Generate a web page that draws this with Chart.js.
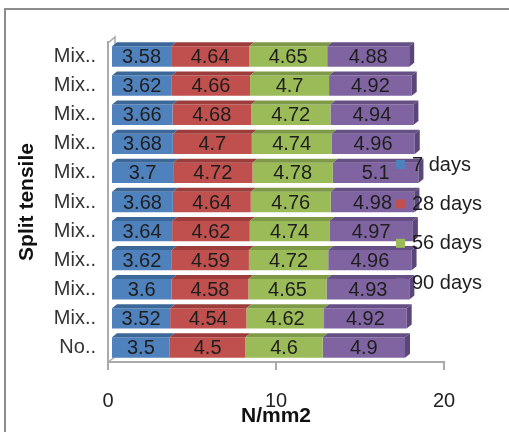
<!DOCTYPE html>
<html>
<head>
<meta charset="utf-8">
<script src="https://cdn.jsdelivr.net/npm/chart.js@4/dist/chart.umd.min.js"></script>
<style>
  html, body { margin: 0; padding: 0; background: #fff; }
  canvas { display: block; }
</style>
</head>
<body>
<canvas id="grafico" width="509" height="432"></canvas>
<script>
// categorias, de arriba hacia abajo
const categorias = ['Mix..', 'Mix..', 'Mix..', 'Mix..', 'Mix..', 'Mix..', 'Mix..', 'Mix..', 'Mix..', 'Mix..', 'No..'];
const series = ['7 days', '28 days', '56 days', '90 days'];
const dias7 = [3.58, 3.62, 3.66, 3.68, 3.7, 3.68, 3.64, 3.62, 3.6, 3.52, 3.5];
const dias28 = [4.64, 4.66, 4.68, 4.7, 4.72, 4.64, 4.62, 4.59, 4.58, 4.54, 4.5];
const dias56 = [4.65, 4.7, 4.72, 4.74, 4.78, 4.76, 4.74, 4.72, 4.65, 4.62, 4.6];
const dias90 = [4.88, 4.92, 4.94, 4.96, 5.1, 4.98, 4.97, 4.96, 4.93, 4.92, 4.9];
const ticksX = [0, 10, 20];

const colores = ['#4F81BD', '#C0504D', '#9BBB59', '#8064A2'];
const coloresTapa = ['#3c6899', '#9d3d3b', '#7e9a47', '#664f85'];
const colorLado = '#5a4679';
const fuente = 'Liberation Sans, Arial, sans-serif';

// desplazamiento del efecto 3D
const dx = 5, dy = 4;

const barras3d = {
  id: 'barras3d',
  beforeDraw(chart) {
    const ctx = chart.ctx;
    ctx.save();
    ctx.strokeStyle = '#8c8c8c';
    ctx.lineWidth = 2;
    ctx.strokeRect(5, 9, 600, 600);
    ctx.restore();
  },
  beforeDatasetsDraw(chart) {
    const ctx = chart.ctx;
    const a = chart.chartArea;
    // pared y piso del marco 3D
    ctx.save();
    ctx.strokeStyle = '#aaa';
    ctx.lineWidth = 1.5;
    ctx.beginPath();
    ctx.moveTo(a.left, a.top + 1);
    ctx.lineTo(a.left + 7, a.top - 5);
    ctx.lineTo(a.left + 7, a.top + 6);
    ctx.moveTo(a.left, a.bottom);
    ctx.lineTo(a.left + 7, a.bottom - 5);
    ctx.stroke();
    ctx.restore();

    ctx.save();
    ctx.translate(3, 0);
  },
  afterDatasetsDraw(chart) {
    const ctx = chart.ctx;
    const ultimo = chart.data.datasets.length - 1;
    chart.data.datasets.forEach((ds, i) => {
      const meta = chart.getDatasetMeta(i);
      meta.data.forEach((bar) => {
        const { x, base, y, height } = bar.getProps(['x', 'base', 'y', 'height'], true);
        const arriba = y - height / 2;
        const abajo = y + height / 2;
        ctx.fillStyle = coloresTapa[i];
        ctx.beginPath();
        ctx.moveTo(base, arriba);
        ctx.lineTo(x, arriba);
        ctx.lineTo(x + dx, arriba - dy);
        ctx.lineTo(base + dx, arriba - dy);
        ctx.closePath();
        ctx.fill();
        if (i === ultimo) {
          ctx.fillStyle = colorLado;
          ctx.beginPath();
          ctx.moveTo(x, arriba);
          ctx.lineTo(x + dx, arriba - dy);
          ctx.lineTo(x + dx, abajo - dy);
          ctx.lineTo(x, abajo);
          ctx.closePath();
          ctx.fill();
        }
      });
    });

    // etiquetas de datos
    ctx.font = '20px ' + fuente;
    ctx.fillStyle = '#1e1e1e';
    ctx.textAlign = 'center';
    ctx.textBaseline = 'middle';
    chart.data.datasets.forEach((ds, i) => {
      const meta = chart.getDatasetMeta(i);
      meta.data.forEach((bar, j) => {
        const { x, base, y } = bar.getProps(['x', 'base', 'y'], true);
        ctx.fillText(String(ds.data[j]), (x + base) / 2, y + 1);
      });
    });
    ctx.restore();
  },
  afterDraw(chart) {
    // leyenda encima de las barras
    const ctx = chart.ctx;
    ctx.save();
    ctx.font = '20px ' + fuente;
    ctx.textAlign = 'left';
    ctx.textBaseline = 'middle';
    chart.data.datasets.forEach((ds, i) => {
      const yc = 165 + i * 39.4;
      ctx.fillStyle = ds.backgroundColor;
      ctx.fillRect(396, yc - 5, 9, 9);
      ctx.fillStyle = '#1e1e1e';
      ctx.fillText(ds.label, 412, yc);
    });
    ctx.restore();
  }
};

const datos = [dias7, dias28, dias56, dias90];

new Chart(document.getElementById('grafico'), {
  type: 'bar',
  data: {
    labels: categorias,
    datasets: series.map((nombre, i) => ({
      label: nombre,
      data: datos[i],
      backgroundColor: colores[i],
      borderWidth: 0,
      barPercentage: 0.7,
      categoryPercentage: 1
    }))
  },
  options: {
    indexAxis: 'y',
    responsive: false,
    animation: false,
    devicePixelRatio: 1,
    layout: { padding: { left: 15, top: 42, right: 65, bottom: 3 } },
    plugins: {
      legend: { display: false },
      tooltip: { enabled: false }
    },
    scales: {
      x: {
        stacked: true,
        min: 0,
        max: 20,
        afterBuildTicks: (s) => { s.ticks = ticksX.map(v => ({ value: v })); },
        afterFit: (s) => { s.height = 67; },
        grid: { drawOnChartArea: false, tickLength: 8, color: '#aaa', lineWidth: 2 },
        border: { color: '#aaa', width: 2 },
        ticks: { padding: 19, color: '#222', font: { family: fuente, size: 20 } },
        title: {
          display: true,
          text: 'N/mm2',
          color: '#111',
          padding: 0,
          font: { family: fuente, size: 21, weight: 'bold' }
        }
      },
      y: {
        stacked: true,
        afterFit: (s) => { s.width = 93; },
        grid: { display: false, drawTicks: false },
        border: { color: '#aaa', width: 2 },
        ticks: { padding: 12, color: '#333', font: { family: fuente, size: 20 } },
        title: {
          display: true,
          text: 'Split tensile',
          color: '#111',
          padding: 0,
          font: { family: fuente, size: 21, weight: 'bold' }
        }
      }
    }
  },
  plugins: [barras3d]
});
</script>
</body>
</html>
